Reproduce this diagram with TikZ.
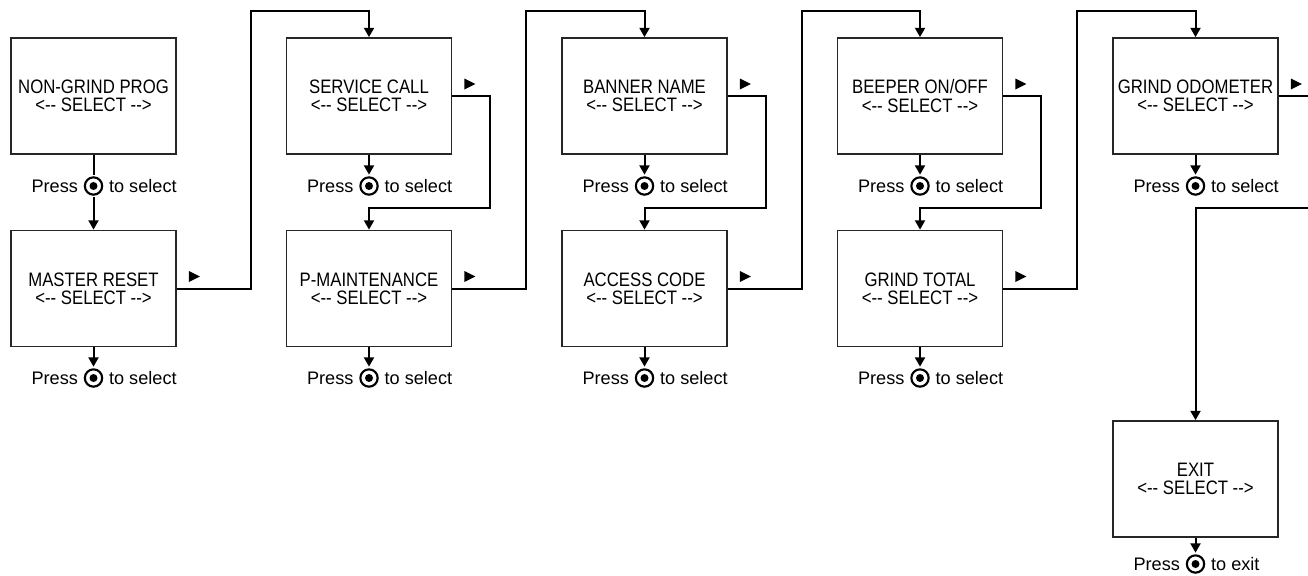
\documentclass[tikz,border=0pt]{standalone}
\usepackage{fontspec}
\setmainfont{Liberation Sans}[FakeStretch=0.86]
\newfontfamily\lblfont{Liberation Sans}
\usetikzlibrary{arrows.meta}

\tikzset{
  menu/.style={draw=black!85,line width=1.3pt,minimum width=123.75pt,minimum height=87pt,
    align=center,inner sep=0pt,font=\fontsize{14.6}{13.6}\selectfont},
  btn/.style={circle,draw,line width=1.6pt,minimum size=13pt,inner sep=0pt,outer sep=2pt,
    path picture={\fill (path picture bounding box.center) circle (3pt);}},
  lbl/.style={inner sep=0pt,font=\lblfont\fontsize{13.6}{14}\selectfont},
  wire/.style={line width=1.5pt},
  flow/.style={wire,-{Triangle[length=7pt,width=7.5pt]}},
  seltri/.pic={\fill (0,-5.5) -- (11,0) -- (0,5.5) -- cycle;}
}

\begin{document}
\begin{tikzpicture}[x=0.75pt,y=-0.75pt]
\useasboundingbox (0,0) rectangle (1308,575);

\node[menu] (ngp) at (93.5,96) {NON-GRIND PROG\\<-{}- SELECT -{}->};
\node[menu] (mr) at (93.5,288.5) {MASTER RESET\\<-{}- SELECT -{}->};
\node[menu] (sc) at (369,96) {SERVICE CALL\\<-{}- SELECT -{}->};
\node[menu] (pm) at (369,288.5) {P-MAINTENANCE\\<-{}- SELECT -{}->};
\node[menu] (bn) at (644.5,96) {BANNER NAME\\<-{}- SELECT -{}->};
\node[menu] (ac) at (644.5,288.5) {ACCESS CODE\\<-{}- SELECT -{}->};
\node[menu] (bp) at (920,96) {BEEPER ON/OFF\\<-{}- SELECT -{}->};
\node[menu] (gt) at (920,288.5) {GRIND TOTAL\\<-{}- SELECT -{}->};
\node[menu] (god) at (1195.5,96) {GRIND ODOMETER\\<-{}- SELECT -{}->};
\node[menu] (ex) at (1195.5,479) {EXIT\\<-{}- SELECT -{}->};

% press buttons
\node[btn] (pngp) at (93.5,186) {};
\node[btn] (pmr) at (93.5,378) {};
\node[btn] (psc) at (369,186) {};
\node[btn] (ppm) at (369,378) {};
\node[btn] (pbn) at (644.5,186) {};
\node[btn] (pac) at (644.5,378) {};
\node[btn] (pbp) at (920,186) {};
\node[btn] (pgt) at (920,378) {};
\node[btn] (pgod) at (1195.5,186) {};
\node[btn] (pex) at (1195.5,564) {};

\node[lbl,anchor=east] at ([xshift=-3pt]pngp.west) {Press};
\node[lbl,anchor=west] at ([xshift=3pt]pngp.east) {to select};
\node[lbl,anchor=east] at ([xshift=-3pt]pmr.west) {Press};
\node[lbl,anchor=west] at ([xshift=3pt]pmr.east) {to select};
\node[lbl,anchor=east] at ([xshift=-3pt]psc.west) {Press};
\node[lbl,anchor=west] at ([xshift=3pt]psc.east) {to select};
\node[lbl,anchor=east] at ([xshift=-3pt]ppm.west) {Press};
\node[lbl,anchor=west] at ([xshift=3pt]ppm.east) {to select};
\node[lbl,anchor=east] at ([xshift=-3pt]pbn.west) {Press};
\node[lbl,anchor=west] at ([xshift=3pt]pbn.east) {to select};
\node[lbl,anchor=east] at ([xshift=-3pt]pac.west) {Press};
\node[lbl,anchor=west] at ([xshift=3pt]pac.east) {to select};
\node[lbl,anchor=east] at ([xshift=-3pt]pbp.west) {Press};
\node[lbl,anchor=west] at ([xshift=3pt]pbp.east) {to select};
\node[lbl,anchor=east] at ([xshift=-3pt]pgt.west) {Press};
\node[lbl,anchor=west] at ([xshift=3pt]pgt.east) {to select};
\node[lbl,anchor=east] at ([xshift=-3pt]pgod.west) {Press};
\node[lbl,anchor=west] at ([xshift=3pt]pgod.east) {to select};
\node[lbl,anchor=east] at ([xshift=-3pt]pex.west) {Press};
\node[lbl,anchor=west] at ([xshift=3pt]pex.east) {to exit};

% down arrows
\draw[wire] (ngp) -- (pngp);
\draw[flow] (pngp) -- (mr);
\draw[flow] (mr) -- (pmr);
\draw[flow] (sc) -- (psc);
\draw[flow] (pm) -- (ppm);
\draw[flow] (bn) -- (pbn);
\draw[flow] (ac) -- (pac);
\draw[flow] (bp) -- (pbp);
\draw[flow] (gt) -- (pgt);
\draw[flow] (god) -- (pgod);
\draw[flow] (ex) -- (pex);

% next item
\draw[flow] (sc.east) -- ++(38,0) |- ([yshift=16.5pt]pm.north) -- (pm.north);
\draw[flow] (bn.east) -- ++(38,0) |- ([yshift=16.5pt]ac.north) -- (ac.north);
\draw[flow] (bp.east) -- ++(38,0) |- ([yshift=16.5pt]gt.north) -- (gt.north);
\draw[flow] (god.east) -- ++(38,0) |- ([yshift=159pt]ex.north) -- (ex.north);
\draw[flow] (mr.east) -- ++(74,0) |- ([yshift=19.5pt]sc.north) -- (sc.north);
\draw[flow] (pm.east) -- ++(74,0) |- ([yshift=19.5pt]bn.north) -- (bn.north);
\draw[flow] (ac.east) -- ++(74,0) |- ([yshift=19.5pt]bp.north) -- (bp.north);
\draw[flow] (gt.east) -- ++(74,0) |- ([yshift=19.5pt]god.north) -- (god.north);

% markers
\pic at ([shift={(12,-12)}]mr.east) {seltri};
\pic at ([shift={(12,-12)}]sc.east) {seltri};
\pic at ([shift={(12,-12)}]pm.east) {seltri};
\pic at ([shift={(12,-12)}]bn.east) {seltri};
\pic at ([shift={(12,-12)}]ac.east) {seltri};
\pic at ([shift={(12,-12)}]bp.east) {seltri};
\pic at ([shift={(12,-12)}]gt.east) {seltri};
\pic at ([shift={(12,-12)}]god.east) {seltri};
\end{tikzpicture}
\end{document}
